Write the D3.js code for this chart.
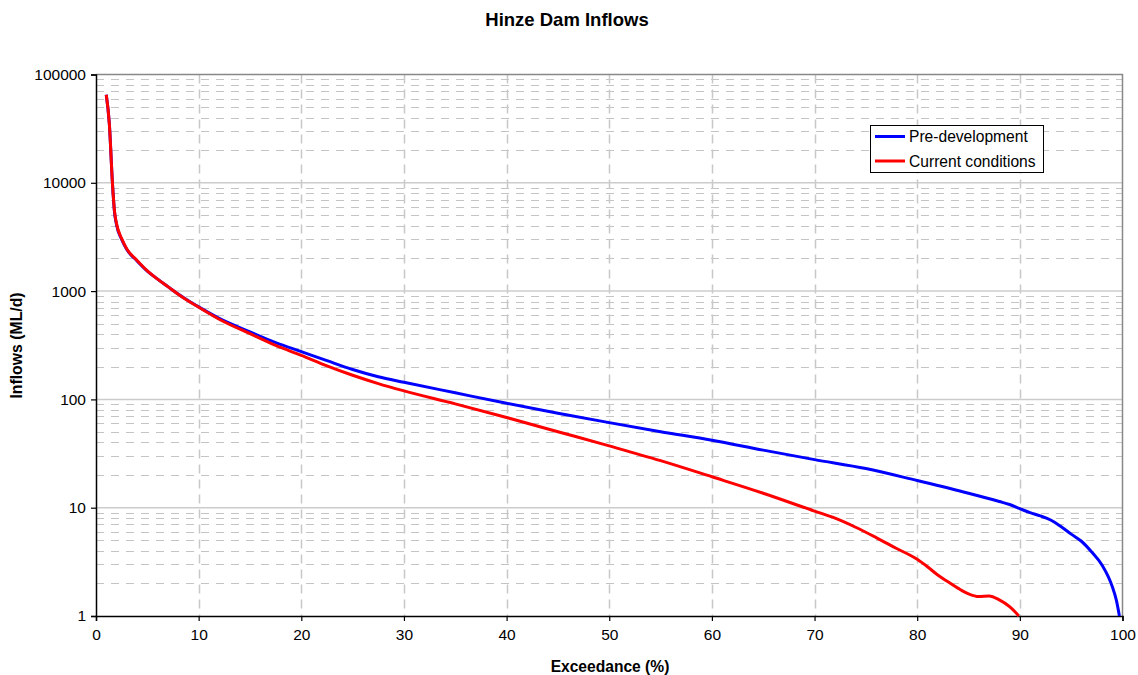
<!DOCTYPE html>
<html>
<head>
<meta charset="utf-8">
<script src="https://cdn.jsdelivr.net/npm/d3@7"></script>
<style>
  body { margin: 0; background: #fff; }
  svg { display: block; font-family: "Liberation Sans", Arial, sans-serif; }
</style>
</head>
<body>
<svg id="chart" width="1138" height="675"></svg>
<script>
// ---- data ----
const title = "Hinze Dam Inflows";
const xLabel = "Exceedance (%)";
const yLabel = "Inflows (ML/d)";
const seriesNames = ["Pre-development", "Current conditions"];
const seriesColors = ["#0000ff", "#ff0000"];

const xTicks = [0, 10, 20, 30, 40, 50, 60, 70, 80, 90, 100];
const yTicks = [1, 10, 100, 1000, 10000, 100000];

const preExceed = [1, 1.3, 1.6, 1.8, 2.0, 2.5, 3, 4, 5, 6, 7, 8, 9, 10, 12, 15, 17.5, 20, 22.5, 25, 27.5, 30, 35, 40, 45, 50, 55, 60, 65, 70, 75, 80, 85, 88, 89, 90, 91, 92, 93, 94, 95, 96, 97, 98, 99, 99.4, 99.7];
const preFlow   = [65000, 35000, 10000, 5400, 4100, 3000, 2420, 1900, 1530, 1290, 1100, 940, 815, 715, 560, 420, 334, 276, 228, 189, 162, 144, 115, 92, 74.5, 61, 50.3, 42, 34, 27.8, 23, 17.8, 13.6, 11.4, 10.7, 9.8, 9.0, 8.4, 7.7, 6.7, 5.7, 4.9, 3.9, 2.96, 1.87, 1.4, 1.0];

const curExceed = [1, 1.3, 1.6, 1.8, 2.0, 2.5, 3, 4, 5, 6, 7, 8, 9, 10, 12, 15, 17.5, 20, 22.5, 25, 27.5, 30, 35, 40, 45, 50, 55, 60, 65, 70, 72, 74, 76, 78, 80, 81, 82, 83, 84, 85, 86, 87, 88, 89, 89.5, 89.9];
const curFlow   = [65000, 35000, 10000, 5500, 4200, 3050, 2450, 1920, 1540, 1290, 1100, 935, 810, 710, 550, 404, 315, 255, 204, 167, 140, 120, 91, 68, 50.3, 37.2, 27.2, 19.3, 13.6, 9.3, 8.0, 6.6, 5.3, 4.2, 3.34, 2.85, 2.39, 2.07, 1.8, 1.6, 1.51, 1.53, 1.41, 1.22, 1.1, 1.0];

// ---- layout ----
const svg = d3.select("#chart");
const pLeft = 96, pRight = 1122.5, pTop = 74.5, pBottom = 616;

const x = d3.scaleLinear().domain([0, 100]).range([pLeft, pRight]);
const y = d3.scaleLog().domain([1, 100000]).range([pBottom, pTop]);

const minorVals = [];
for (let e = 0; e < 5; e++) for (let k = 2; k <= 9; k++) minorVals.push(k * Math.pow(10, e));

// minor horizontal dashed grid
svg.append("g").selectAll("line").data(minorVals).join("line")
  .attr("x1", pLeft).attr("x2", pRight)
  .attr("y1", d => Math.round(y(d)) + 0.5).attr("y2", d => Math.round(y(d)) + 0.5)
  .attr("stroke", "#c4c4c4").attr("stroke-width", 1).attr("stroke-dasharray", "8,7");

// vertical dashed grid
svg.append("g").selectAll("line").data(xTicks.slice(1, -1)).join("line")
  .attr("x1", d => Math.round(x(d)) + 0.5).attr("x2", d => Math.round(x(d)) + 0.5)
  .attr("y1", pTop).attr("y2", pBottom)
  .attr("stroke", "#c8c8c8").attr("stroke-width", 1.5).attr("stroke-dasharray", "9,6");

// major horizontal solid grid
svg.append("g").selectAll("line").data(yTicks.slice(1, -1)).join("line")
  .attr("x1", pLeft).attr("x2", pRight)
  .attr("y1", d => y(d)).attr("y2", d => y(d))
  .attr("stroke", "#cccccc").attr("stroke-width", 1.5);

// frame top/right
svg.append("path")
  .attr("d", `M${pLeft},${pTop}H${pRight}V${pBottom}`)
  .attr("fill", "none").attr("stroke", "#888").attr("stroke-width", 1.5);

// axes
const xAxis = d3.axisBottom(x).tickValues(xTicks).tickSize(5).tickPadding(8).tickFormat(d3.format("d"));
const yAxis = d3.axisLeft(y).tickValues(yTicks).tickSize(5).tickPadding(5).tickFormat(d3.format("d"));

const gx = svg.append("g").attr("transform", `translate(0,${pBottom})`).call(xAxis);
const gy = svg.append("g").attr("transform", `translate(${pLeft},0)`).call(yAxis);
[gx, gy].forEach(g => {
  g.select(".domain").attr("stroke", "#000").attr("stroke-width", 1.5);
  g.selectAll(".tick line").attr("stroke", "#000").attr("stroke-width", 1.2);
  g.selectAll(".tick text").attr("fill", "#000").style("font-size", "15.5px")
    .style("font-family", '"Liberation Sans", Arial, sans-serif');
});

// lines
const line = d3.line().x(d => x(d[0])).y(d => y(d[1])).curve(d3.curveMonotoneX);
const preData = preExceed.map((p, i) => [p, preFlow[i]]);
const curData = curExceed.map((p, i) => [p, curFlow[i]]);
svg.append("path").datum(preData).attr("d", line)
  .attr("fill", "none").attr("stroke", seriesColors[0]).attr("stroke-width", 3);
svg.append("path").datum(curData).attr("d", line)
  .attr("fill", "none").attr("stroke", seriesColors[1]).attr("stroke-width", 3);

// titles
svg.append("text").attr("x", 567).attr("y", 26).attr("text-anchor", "middle")
  .style("font-size", "18.5px").style("font-weight", "bold").text(title);
svg.append("text").attr("x", 610).attr("y", 672).attr("text-anchor", "middle")
  .style("font-size", "15.6px").style("font-weight", "bold").text(xLabel);
svg.append("text").attr("transform", "translate(22,345.5) rotate(-90)").attr("text-anchor", "middle")
  .style("font-size", "15.8px").style("font-weight", "bold").text(yLabel);

// legend
const lg = svg.append("g");
lg.append("rect").attr("x", 870.5).attr("y", 125.5).attr("width", 173).attr("height", 47)
  .attr("fill", "#fff").attr("stroke", "#000").attr("stroke-width", 1);
seriesNames.forEach((name, i) => {
  const yy = 136.5 + i * 24.5;
  lg.append("line").attr("x1", 875).attr("x2", 905).attr("y1", yy).attr("y2", yy)
    .attr("stroke", seriesColors[i]).attr("stroke-width", 3);
  lg.append("text").attr("x", 909).attr("y", yy + 5.5)
    .style("font-size", "15.6px").text(name);
});
</script>
</body>
</html>
